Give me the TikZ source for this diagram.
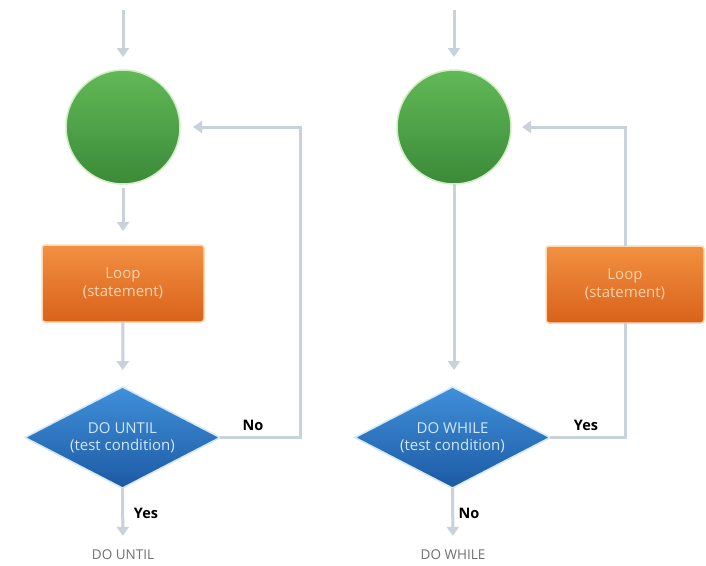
\documentclass[tikz,border=0pt]{standalone}
\usepackage{fontspec}
\setmainfont{Open Sans}
\usetikzlibrary{shapes.geometric,arrows.meta}
\definecolor{linec}{HTML}{C9D2DB}
\definecolor{gtop}{HTML}{62B957}
\definecolor{gbot}{HTML}{3B8A38}
\definecolor{gedge}{HTML}{D2ECC4}
\definecolor{otop}{HTML}{F29040}
\definecolor{obot}{HTML}{D9621A}
\definecolor{oedge}{HTML}{FBD9B4}
\definecolor{otext}{HTML}{FBD3B0}
\definecolor{btop}{HTML}{4090DA}
\definecolor{bbot}{HTML}{1C5AA3}
\definecolor{bedge}{HTML}{D2E7F8}
\definecolor{btext}{HTML}{D4E6F8}
\definecolor{endc}{HTML}{707070}
\begin{document}
\begin{tikzpicture}[x=1pt,y=-1pt,
  conn/.style={draw=linec, line width=3pt},
  arr/.style={conn, -{Triangle[width=12pt,length=9pt]}},
  startc/.style={circle, minimum size=114pt, inner sep=0pt, outer sep=0pt,
    top color=gtop, bottom color=gbot, draw=gedge, line width=1.5pt},
  stmt/.style={rectangle, rounded corners=3pt, minimum height=77pt, inner sep=0pt, outer sep=0pt,
    top color=otop, bottom color=obot, draw=oedge, line width=1.5pt,
    text=otext, align=center, font=\fontsize{15}{18}\selectfont},
  test/.style={diamond, minimum width=195pt, minimum height=101pt, inner sep=0pt, outer sep=0pt,
    shape aspect=1.93, top color=btop, bottom color=bbot, draw=bedge, line width=1.5pt,
    text=btext, align=center, font=\fontsize{15}{17}\selectfont},
  lbl/.style={font=\fontsize{14.5}{14.5}\selectfont\bfseries, text=black, inner sep=0pt},
  endl/.style={font=\fontsize{13.5}{13.5}\selectfont, text=endc, inner sep=0pt}
]
\useasboundingbox (0,0) rectangle (706,565);
\fill[white] (0,0) rectangle (706,565);

% ---------- DO UNTIL ----------
\coordinate (t1) at (123,10);
\node[startc] (c1) at (123,127) {};
\node[stmt, minimum width=162pt] (r1) at (123,283.5) {Loop\\(statement)};
\node[test] (d1) at (122.5,437.5) {DO UNTIL\\(test condition)};
\node[endl] (e1) at (123,555) {DO UNTIL};
\node[lbl] (no1) at (253,425) {No};
\node[lbl] (yes1) at (146,513) {Yes};

\draw[arr, shorten >=13pt] (t1) -- (c1);
\draw[arr, shorten <=4pt, shorten >=14pt] (c1) -- (r1);
\draw[arr, shorten >=17pt] (r1) -- (d1);
\draw[arr, shorten >=13pt] (d1.east) -- ++(80,0) |- (c1.east);
\draw[arr, shorten >=14pt] (d1.south) -- (e1.north);

% ---------- DO WHILE ----------
\coordinate (t2) at (454,10);
\node[startc] (c2) at (454,127) {};
\node[stmt, minimum width=158pt] (r2) at (625,284.5) {Loop\\(statement)};
\node[test] (d2) at (452.5,437.5) {DO WHILE\\(test condition)};
\node[endl] (e2) at (453,555) {DO WHILE};
\node[lbl] (yes2) at (586,425) {Yes};
\node[lbl] (no2) at (469,513) {No};

\draw[arr, shorten >=13pt] (t2) -- (c2);
\draw[arr, shorten >=17pt] (c2.south) -- (c2.south |- d2.north);
\draw[conn] (d2.east) -| (r2.south);
\draw[arr, shorten >=11pt] (r2.north) |- (c2.east);
\draw[arr, shorten >=14pt] (d2.south) -- (e2.north);
\end{tikzpicture}
\end{document}
